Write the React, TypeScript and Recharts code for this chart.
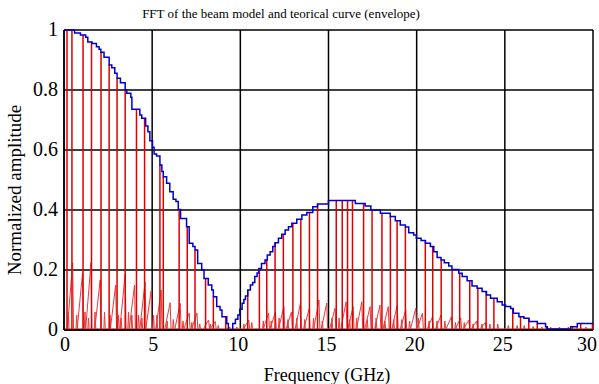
import { ComposedChart, Line, XAxis, YAxis, CartesianGrid } from "recharts";

// envelope (blue step curve)
const envFreq = [
    0, 0.6, 0.93, 1.23, 1.35, 1.59, 1.84, 1.99, 2.09, 2.27, 2.56, 2.71, 2.88, 3.01, 3.2, 3.47, 3.56, 3.79, 3.85,
    4.3, 4.41, 4.63, 4.76, 4.87, 5.02, 5.11, 5.25, 5.44, 5.55, 5.63, 5.82, 6.0, 6.19, 6.35, 6.48, 6.61, 6.95,
    7.1, 7.31, 7.43, 7.58, 7.81, 7.94, 8.18, 8.38, 8.47, 8.66, 8.85, 8.96, 9.23, 9.32, 9.57, 9.72, 9.86, 9.97,
    10.1, 10.2, 10.29, 10.42, 10.57, 10.7, 10.82, 10.95, 11.05, 11.2, 11.4, 11.53, 11.69, 11.84, 11.97, 12.16,
    12.35, 12.54, 12.73, 12.92, 13.2, 13.49, 13.77, 14.11, 14.38, 15.0, 16.52, 17.08, 17.4, 17.94, 18.5, 18.79,
    19.07, 19.36, 19.55, 19.83, 19.98, 20.25, 20.5, 20.78, 20.97, 21.16, 21.38, 21.57, 21.82, 22.0, 22.39, 22.58,
    22.86, 23.14, 23.43, 23.71, 23.96, 24.19, 24.57, 24.85, 25.04, 25.33, 25.48, 25.8, 26.08, 26.37, 26.84, 27.31,
    27.41, 28.73, 29.11, 30,
];
const envAmp = [
    1.0, 0.99, 0.983, 0.976, 0.96, 0.955, 0.944, 0.936, 0.926, 0.909, 0.883, 0.874, 0.856, 0.839, 0.824, 0.8, 0.789, 0.776, 0.736,
    0.717, 0.706, 0.68, 0.661, 0.631, 0.609, 0.587, 0.58, 0.55, 0.528, 0.511, 0.489, 0.461, 0.436, 0.428, 0.402, 0.372, 0.344,
    0.289, 0.278, 0.267, 0.222, 0.2, 0.172, 0.15, 0.133, 0.111, 0.078, 0.067, 0.044, 0.022, 0.0, 0.022, 0.036, 0.05, 0.069,
    0.089, 0.102, 0.113, 0.133, 0.15, 0.158, 0.178, 0.19, 0.205, 0.222, 0.233, 0.25, 0.261, 0.278, 0.291, 0.306,
    0.319, 0.333, 0.344, 0.356, 0.369, 0.383, 0.392, 0.411, 0.42, 0.432, 0.422, 0.413, 0.4, 0.389, 0.378, 0.364,
    0.35, 0.343, 0.324, 0.317, 0.306, 0.298, 0.289, 0.278, 0.261, 0.242, 0.233, 0.224, 0.213, 0.202, 0.189, 0.178,
    0.164, 0.147, 0.139, 0.128, 0.117, 0.106, 0.094, 0.083, 0.078, 0.072, 0.056, 0.044, 0.039, 0.028, 0.022, 0.011,
    0.003, 0.011, 0.022, 0.022,
];

// main FFT lines (red), frequencies in GHz
const stemFreq = [
    0.17, 0.45, 1.08, 1.56, 2.1, 2.56, 3.01, 3.47, 4.11, 4.57, 5.44, 5.63, 6.53, 6.99, 7.43, 8.03, 8.47, 9.17,
    10.42, 11.08, 11.5, 11.97, 12.44, 12.98, 13.43, 13.92, 14.38, 15.44, 15.78, 16.08, 16.36, 16.99, 17.47, 18.03,
    18.51, 18.89, 19.36, 20.49, 20.91, 21.39, 22.01, 22.44, 23.01, 23.47, 23.94, 24.38, 25.45, 25.89, 26.36, 26.84,
    27.37, 27.98, 28.35, 28.83, 29.3, 29.97,
];

// side lobes of the FFT (ramps)
const rampFreq = [
    0.49, 1.05, 1.53, 2.05, 2.93, 3.47, 4.0, 4.6, 4.94, 5.51, 6.02, 6.59, 7.1, 7.54, 8.2, 8.58, 10.48, 11.6, 11.99,
    12.47, 12.9, 13.41, 13.9, 14.46, 14.9, 15.37, 16.0, 16.4, 16.89, 17.36, 17.92, 18.39, 18.9, 19.38, 19.95, 20.33,
    20.9, 21.38, 21.97, 22.5, 22.96, 23.4, 23.9,
];
const rampAmp = [
    0.224, 0.189, 0.224, 0.167, 0.15, 0.189, 0.15, 0.16, 0.13, 0.133, 0.091, 0.089, 0.056, 0.056, 0.033, 0.028, 0.033, 0.056, 0.06,
    0.078, 0.06, 0.089, 0.07, 0.1, 0.09, 0.072, 0.094, 0.078, 0.094, 0.078, 0.083, 0.078, 0.083, 0.067, 0.072, 0.056,
    0.044, 0.05, 0.044, 0.04, 0.033, 0.03, 0.025,
];

// small spikes near the floor
const spikeFreq = [
    0.25, 0.72, 1.19, 1.39, 1.76, 2.3, 2.61, 3.09, 3.24, 3.66, 3.85, 4.23, 4.42, 5.08, 5.27, 5.85, 6.2, 6.75, 7.25,
    7.7, 8.3, 8.75, 9.4, 9.8, 10.2, 10.65, 11.3, 11.75, 12.2, 12.7, 13.2, 13.65, 14.15, 14.65, 15.2, 15.6, 16.2,
    16.6, 17.2, 17.7, 18.2, 18.7, 19.15, 19.6, 20.1, 20.7, 21.15, 21.6, 22.2, 22.7, 23.2, 23.7, 24.15, 24.6, 25.2,
    25.7, 26.1, 26.6, 27.1, 27.6, 28.1, 28.6, 29.1, 29.6,
];
const spikeAmp = [
    0.06, 0.05, 0.06, 0.04, 0.06, 0.06, 0.05, 0.05, 0.04, 0.06, 0.05, 0.05, 0.04, 0.05, 0.05, 0.03, 0.035, 0.03, 0.025,
    0.02, 0.02, 0.015, 0.01, 0.01, 0.02, 0.025, 0.03, 0.03, 0.04, 0.035, 0.04, 0.035, 0.04, 0.03, 0.04, 0.04, 0.035,
    0.04, 0.035, 0.04, 0.03, 0.035, 0.035, 0.03, 0.04, 0.03, 0.03, 0.03, 0.025, 0.025, 0.02, 0.02, 0.02, 0.02, 0.015,
    0.015, 0.015, 0.012, 0.01, 0.01, 0.01, 0.01, 0.01, 0.01,
];

const xTicks = [0, 5, 10, 15, 20, 25, 30];
const yTicks = [0, 0.2, 0.4, 0.6, 0.8, 1];

const envelope = envFreq.map((f, i) => ({ f, v: envAmp[i] }));

const envAt = (f: number) => {
    let v = envAmp[0];
    envFreq.forEach((ef, i) => {
        if (ef <= f) v = envAmp[i];
    });
    return v;
};

// vertical segments separated by nulls
const stems: any[] = [];
stemFreq.forEach((f) => {
    stems.push({ f, v: 0 }, { f, v: envAt(f) }, { f, v: null });
});

const noise: any[] = [{ f: 0, v: 0.004 }, { f: 30, v: 0.004 }, { f: 30, v: null }];
rampFreq.forEach((f, i) => {
    noise.push({ f: f - 0.3, v: 0.004 }, { f, v: rampAmp[i] }, { f: f + 0.05, v: 0.004 }, { f: f + 0.05, v: null });
});
spikeFreq.forEach((f, i) => {
    noise.push({ f: f - 0.04, v: 0.004 }, { f, v: spikeAmp[i] }, { f: f + 0.04, v: 0.004 }, { f: f + 0.04, v: null });
});

const serif = "'Liberation Serif', 'Times New Roman', Times, serif";

// tick label drawn as plain svg text so the serif font sticks
const Tick = ({ x, y, payload, anchor, dx, dy }: any) => (
    <text x={x} y={y} dx={dx} dy={dy} textAnchor={anchor} fill="#000" fontSize={20} style={{ fontFamily: serif }}>
        {String(payload.value)}
    </text>
);

export default function App() {
    return (
        <div style={{ position: "absolute", left: 0, top: 0, width: 599, height: 384, background: "#fff", fontFamily: serif }}>
            <div style={{ position: "absolute", left: 0, width: 562, top: 6, textAlign: "center", fontSize: 13, lineHeight: "16px", color: "#000" }}>
                FFT of the beam model and teorical curve (envelope)
            </div>

            <ComposedChart width={599} height={384} margin={{ top: 30, right: 6, bottom: 24, left: 0 }} style={{ fontFamily: serif }}>
                <CartesianGrid stroke="#000" strokeWidth={1.5} />

                <XAxis
                    type="number"
                    dataKey="f"
                    domain={[0, 30]}
                    ticks={xTicks}
                    height={30}
                    axisLine={{ stroke: "#000", strokeWidth: 1.5 }}
                    tickLine={false}
                    tick={(p: any) => (
                        <Tick {...p} anchor="middle" y={330} dy={21} dx={p.payload.value >= 30 ? -4 : p.payload.value >= 10 ? -2 : 1} />
                    )}
                    allowDuplicatedCategory={false}
                />
                <YAxis
                    type="number"
                    domain={[0, 1]}
                    ticks={yTicks}
                    width={64}
                    axisLine={{ stroke: "#000", strokeWidth: 1.5 }}
                    tickLine={false}
                    tick={(p: any) => <Tick {...p} anchor="end" x={58} dx={0} dy={6} />}
                />

                <Line
                    data={noise}
                    dataKey="v"
                    type="linear"
                    stroke="#e83a3a"
                    strokeWidth={1}
                    dot={false}
                    activeDot={false}
                    connectNulls={false}
                    isAnimationActive={false}
                />
                <Line
                    data={stems}
                    dataKey="v"
                    type="linear"
                    stroke="#e00000"
                    strokeWidth={1.5}
                    dot={false}
                    activeDot={false}
                    connectNulls={false}
                    isAnimationActive={false}
                />
                <Line
                    data={envelope}
                    dataKey="v"
                    type="stepAfter"
                    stroke="#0000cc"
                    strokeWidth={1.5}
                    dot={false}
                    activeDot={false}
                    isAnimationActive={false}
                />
            </ComposedChart>

            <div style={{ position: "absolute", left: 227, width: 200, top: 365, textAlign: "center", fontSize: 18, lineHeight: "20px", color: "#000" }}>
                Frequency (GHz)
            </div>
            <div
                style={{
                    position: "absolute", left: 15, top: 190, width: 240, marginLeft: -120, marginTop: -10,
                    textAlign: "center", fontSize: 19, lineHeight: "20px", color: "#000", transform: "rotate(-90deg)",
                }}
            >
                Normalized amplitude
            </div>
        </div>
    );
}
